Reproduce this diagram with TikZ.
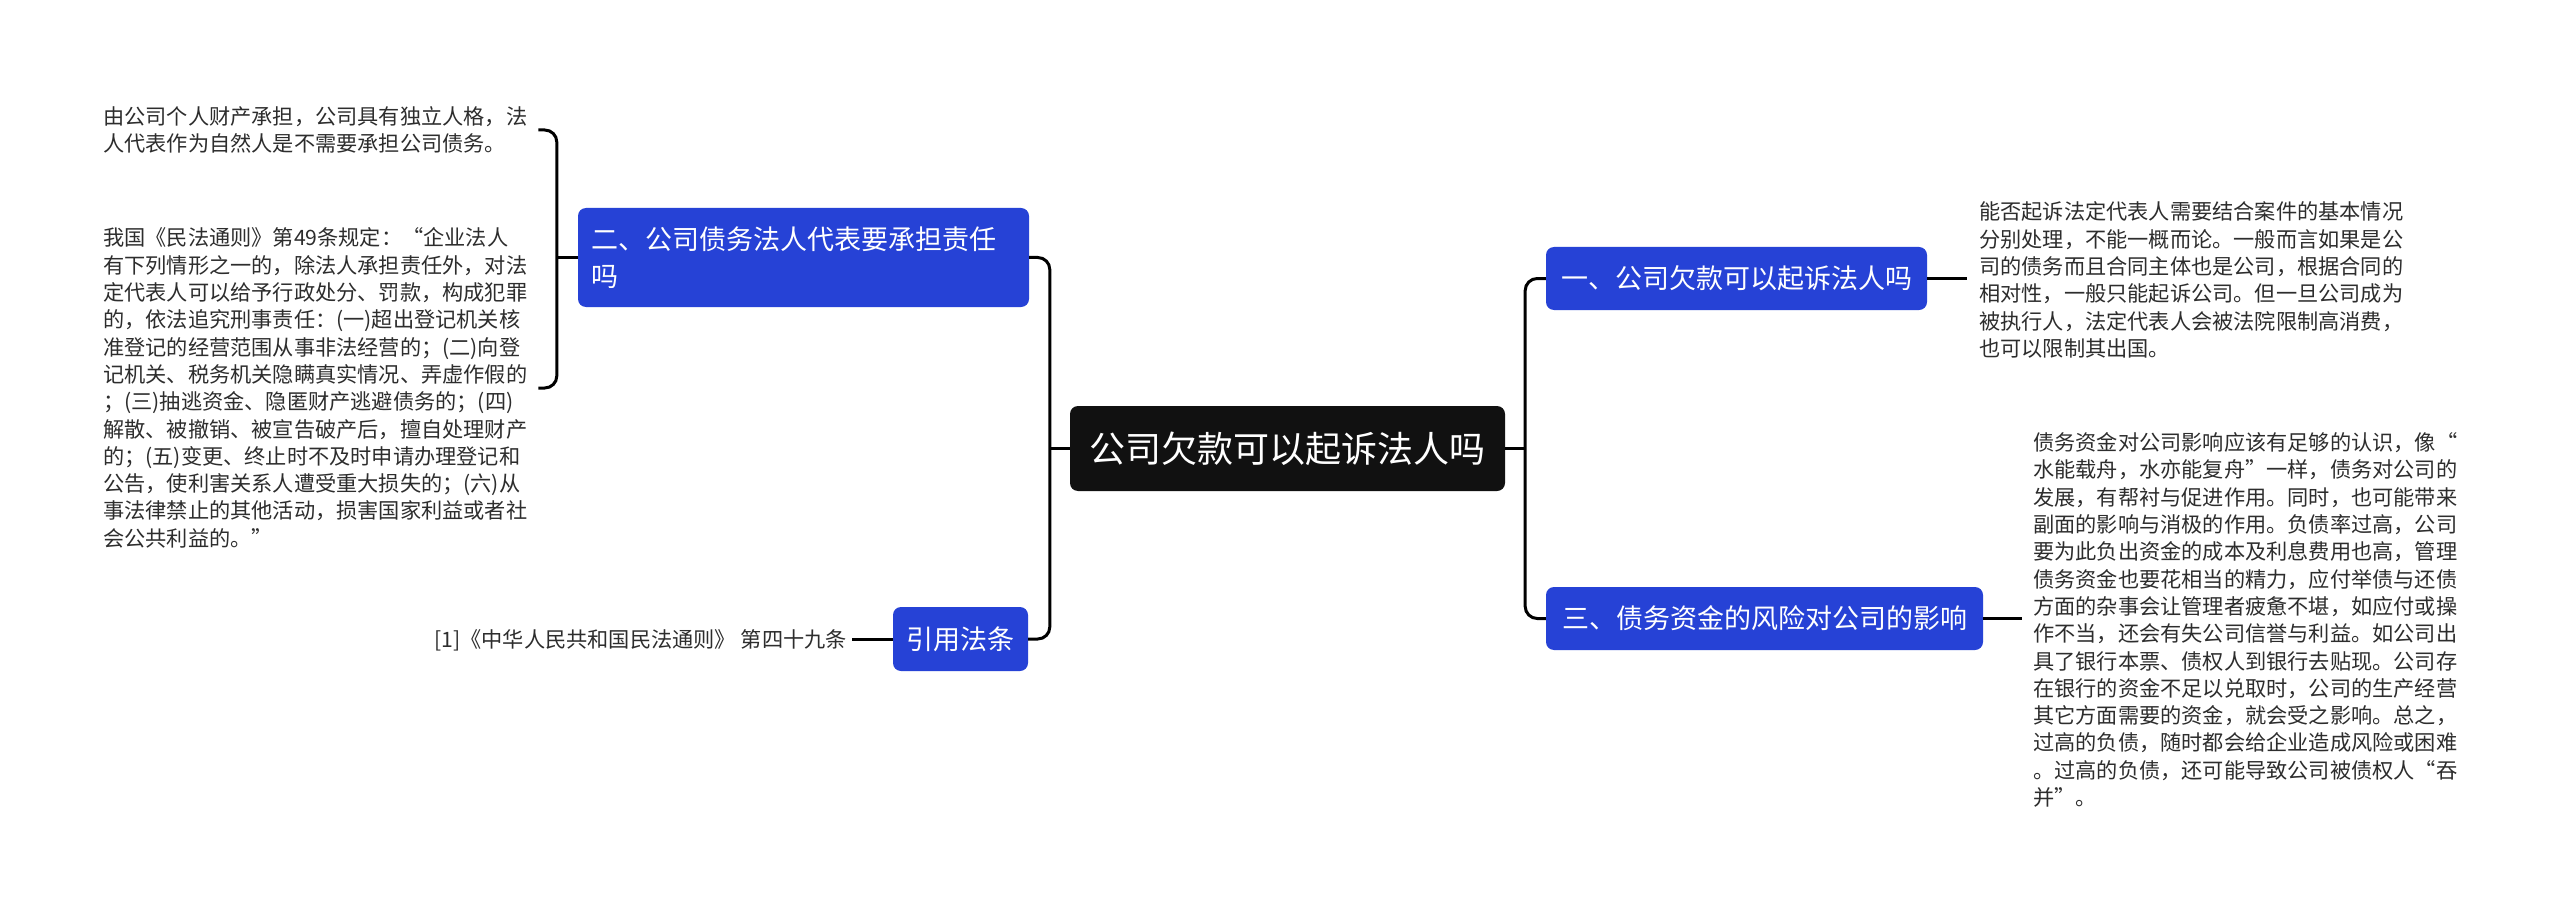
\documentclass[tikz,border=0pt]{standalone}
\usepackage{fontspec}
\newfontfamily\cjk{Noto Sans CJK SC}
\definecolor{nodeblue}{RGB}{38,66,214}
\definecolor{rootblack}{RGB}{17,17,17}
\definecolor{bodytext}{RGB}{45,45,45}
\begin{document}
\begin{tikzpicture}[x=1pt,y=-1pt,
  conn/.style={line width=3pt, draw=black, rounded corners=12pt},
  topic/.style={fill=nodeblue, rounded corners=8pt, text=white, font=\cjk\fontsize{27}{37}\selectfont, inner sep=0pt, align=center},
  rootnode/.style={fill=rootblack, rounded corners=8pt, text=white, font=\cjk\fontsize{36}{44}\selectfont, inner sep=0pt, align=center},
  body/.style={font=\cjk\fontsize{21.2}{27.3}\selectfont, text=bodytext, inner sep=0pt, align=left}]
\fill[white] (0,0) rectangle (2560,912);
\useasboundingbox (0,0) rectangle (2560,912);

\node[rootnode, minimum width=435pt, minimum height=85pt] (root) at (1287.5,448.5) {公司欠款可以起诉法人吗};
\node[topic, minimum width=381pt, minimum height=63pt] (n1) at (1736.5,278.5) {一、公司欠款可以起诉法人吗};
\node[topic, minimum width=437pt, minimum height=63pt] (n3) at (1764.5,618.5) {三、债务资金的风险对公司的影响};
\node[topic, minimum width=451pt, minimum height=99pt, align=left, text width=425pt] (n2) at (803.5,257.5) {二、公司债务法人代表要承担责任\\吗};
\node[topic, minimum width=135pt, minimum height=64pt] (cite) at (960.5,639) {引用法条};

\node[body, anchor=west] (t1) at (103,130) {由公司个人财产承担，公司具有独立人格，法\\人代表作为自然人是不需要承担公司债务。};
\node[body, anchor=west] (t2) at (103,388) {我国《民法通则》第49条规定：“企业法人\\有下列情形之一的，除法人承担责任外，对法\\定代表人可以给予行政处分、罚款，构成犯罪\\的，依法追究刑事责任：(一)超出登记机关核\\准登记的经营范围从事非法经营的；(二)向登\\记机关、税务机关隐瞒真实情况、弄虚作假的\\；(三)抽逃资金、隐匿财产逃避债务的；(四)\\解散、被撤销、被宣告破产后，擅自处理财产\\的；(五)变更、终止时不及时申请办理登记和\\公告，使利害关系人遭受重大损失的；(六)从\\事法律禁止的其他活动，损害国家利益或者社\\会公共利益的。”};
\node[body, anchor=east] (ref) at (847,640) {[1]《中华人民共和国民法通则》 第四十九条};
\node[body, anchor=west] (t3) at (1979,280) {能否起诉法定代表人需要结合案件的基本情况\\分别处理，不能一概而论。一般而言如果是公\\司的债务而且合同主体也是公司，根据合同的\\相对性，一般只能起诉公司。但一旦公司成为\\被执行人，法定代表人会被法院限制高消费，\\也可以限制其出国。};
\node[body, anchor=west] (t4) at (2033,620) {债务资金对公司影响应该有足够的认识，像“\\水能载舟，水亦能复舟”一样，债务对公司的\\发展，有帮衬与促进作用。同时，也可能带来\\副面的影响与消极的作用。负债率过高，公司\\要为此负出资金的成本及利息费用也高，管理\\债务资金也要花相当的精力，应付举债与还债\\方面的杂事会让管理者疲惫不堪，如应付或操\\作不当，还会有失公司信誉与利益。如公司出\\具了银行本票、债权人到银行去贴现。公司存\\在银行的资金不足以兑取时，公司的生产经营\\其它方面需要的资金，就会受之影响。总之，\\过高的负债，随时都会给企业造成风险或困难\\。过高的负债，还可能导致公司被债权人“吞\\并”。};

\path (root.west) ++(-20,0) coordinate (jl);
\path (root.east) ++(20,0) coordinate (jr);
\path (n2.west) ++(-21,0) coordinate (bj);
\coordinate (b1) at ([xshift=11pt]t1.east);
\coordinate (b2) at ([xshift=11pt]t2.east);

\draw[conn] (root.west) -- (jl);
\draw[conn] (n2.east) -| (jl) |- (cite.east);
\draw[conn] (root.east) -- (jr);
\draw[conn] (n1.west) -| (jr) |- (n3.west);
\draw[conn] (n2.west) -- (bj);
\draw[conn] (b1) -| (bj) |- (b2);
\draw[conn, shorten >=12pt] (n1.east) -- (n1.east -| t3.west);
\draw[conn, shorten >=11pt] (n3.east) -- (n3.east -| t4.west);
\draw[conn, shorten >=5pt] (cite.west) -- (cite.west -| ref.east);
\end{tikzpicture}
\end{document}
